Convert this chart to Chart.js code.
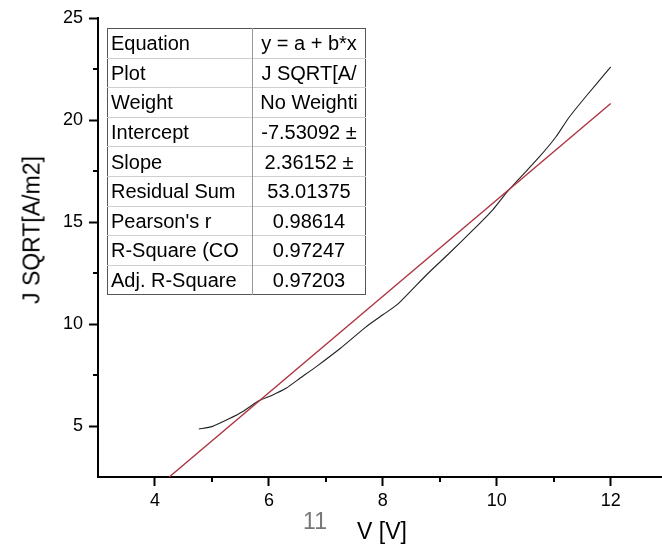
<!DOCTYPE html>
<html>
<head>
<meta charset="utf-8">
<script src="https://cdn.jsdelivr.net/npm/chart.js@4.4.1/dist/chart.umd.min.js"></script>
<style>
  html, body { margin: 0; padding: 0; background: #fff; }
  #wrap { position: relative; width: 662px; height: 551px; overflow: hidden; font-family: "Liberation Sans", Arial, sans-serif; }
  canvas { position: absolute; left: 0; top: 0; }
  .lbl { position: absolute; white-space: nowrap; color: #000; }
  #ytitle { font-size: 23px; left: 32px; top: 230px; transform: translate(-50%, -50%) rotate(-90deg); }
  #xtitle { font-size: 23px; left: 382px; top: 531px; transform: translate(-50%, -50%); }
  #note { font-size: 23px; left: 315px; top: 521px; transform: translate(-50%, -50%); color: #777; }
  #stats { position: absolute; left: 107px; top: 28px; border-collapse: collapse; border: 1px solid #555; font-size: 20px; table-layout: fixed; }
  #stats td { height: 28.6px; padding: 0; border-top: 1px solid #cfcfcf; overflow: hidden; white-space: nowrap; line-height: 28px; }
  #stats td.k { width: 141px; padding-left: 3px; border-right: 1px solid #999; }
  #stats td.v { width: 112px; text-align: center; }
</style>
</head>
<body>
<div id="wrap">
  <canvas id="c" width="662" height="551"></canvas>
  <div class="lbl" id="ytitle">J SQRT[A/m2]</div>
  <div class="lbl" id="xtitle">V [V]</div>
  <div class="lbl" id="note">11</div>
  <table id="stats"></table>
</div>
<script>
// ---- data ----
const statKeys = ["Equation", "Plot", "Weight", "Intercept", "Slope", "Residual Sum", "Pearson's r", "R-Square (CO", "Adj. R-Square"];
const statVals = ["y = a + b*x", "J SQRT[A/", "No Weighti", "-7.53092 \u00b1", "2.36152 \u00b1", "53.01375", "0.98614", "0.97247", "0.97203"];

const measuredV = [4.77, 5.0, 5.3, 5.55, 5.8, 6.05, 6.3, 6.55, 6.85, 7.25, 7.7, 8.0, 8.25, 8.5, 8.8, 9.17, 9.58, 9.93, 10.16, 10.4, 10.75, 11.04, 11.26, 11.56, 12.0];
const measuredJ = [4.85, 4.97, 5.35, 5.72, 6.2, 6.5, 6.85, 7.35, 7.95, 8.8, 9.85, 10.45, 10.95, 11.65, 12.5, 13.48, 14.6, 15.6, 16.4, 17.14, 18.2, 19.18, 20.1, 21.14, 22.6];

const fitV = [4.25, 12.0];
const fitJ = [2.5, 20.81];

const xTicks = [4, 6, 8, 10, 12];
const xMinor = [5, 7, 9, 11];
const yTicks = [5, 10, 15, 20, 25];
const yMinor = [7.5, 12.5, 17.5, 22.5];

// ---- table ----
const tbl = document.getElementById('stats');
statKeys.forEach((k, i) => {
  const tr = document.createElement('tr');
  const a = document.createElement('td'); a.className = 'k'; a.textContent = k;
  const b = document.createElement('td'); b.className = 'v'; b.textContent = statVals[i];
  if (i === 0) { a.style.borderTop = 'none'; b.style.borderTop = 'none'; }
  tr.appendChild(a); tr.appendChild(b); tbl.appendChild(tr);
});

// ---- chart ----
const FONT = "'Liberation Sans', Arial, sans-serif";
const minorTicks = {
  id: 'minorTicks',
  afterDraw(chart) {
    const ctx = chart.ctx, a = chart.chartArea;
    const xs = chart.scales.x, ys = chart.scales.y;
    ctx.save();
    ctx.strokeStyle = '#000';
    ctx.lineWidth = 2;
    xMinor.forEach(v => {
      const px = Math.round(xs.getPixelForValue(v));
      ctx.beginPath(); ctx.moveTo(px, a.bottom); ctx.lineTo(px, a.bottom + 5); ctx.stroke();
    });
    yMinor.forEach(v => {
      const py = Math.round(ys.getPixelForValue(v));
      ctx.beginPath(); ctx.moveTo(a.left, py); ctx.lineTo(a.left - 5, py); ctx.stroke();
    });
    ctx.restore();
  }
};

new Chart(document.getElementById('c'), {
  type: 'line',
  data: {
    datasets: [
      {
        label: 'Linear Fit',
        data: fitV.map((v, i) => ({ x: v, y: fitJ[i] })),
        borderColor: '#ad3340',
        borderWidth: 1.4,
        pointRadius: 0,
        tension: 0
      },
      {
        label: 'J SQRT',
        data: measuredV.map((v, i) => ({ x: v, y: measuredJ[i] })),
        borderColor: '#222',
        borderWidth: 1.1,
        pointRadius: 0,
        tension: 0.2
      }
    ]
  },
  options: {
    responsive: false,
    animation: false,
    devicePixelRatio: 1,
    layout: { padding: { top: 18, right: 0, left: 0, bottom: 0 } },
    plugins: { legend: { display: false }, tooltip: { enabled: false }, title: { display: false } },
    scales: {
      x: {
        type: 'linear',
        min: 3, max: 12.9,
        afterBuildTicks: s => { s.ticks = xTicks.map(v => ({ value: v })); },
        afterFit: s => { s.height = 74; },
        ticks: { font: { family: FONT, size: 18 }, color: '#000', padding: 4, maxRotation: 0 },
        grid: { drawOnChartArea: false, drawTicks: true, tickLength: 9, tickWidth: 2, tickColor: '#000' },
        border: { display: true, width: 2, color: '#000' }
      },
      y: {
        type: 'linear',
        min: 2.5, max: 25,
        afterBuildTicks: s => { s.ticks = yTicks.map(v => ({ value: v })); },
        afterFit: s => { s.width = 98; },
        ticks: { font: { family: FONT, size: 18 }, color: '#000', padding: 6 },
        grid: { drawOnChartArea: false, drawTicks: true, tickLength: 9, tickWidth: 2, tickColor: '#000' },
        border: { display: true, width: 2, color: '#000' }
      }
    }
  },
  plugins: [minorTicks]
});
</script>
</body>
</html>
